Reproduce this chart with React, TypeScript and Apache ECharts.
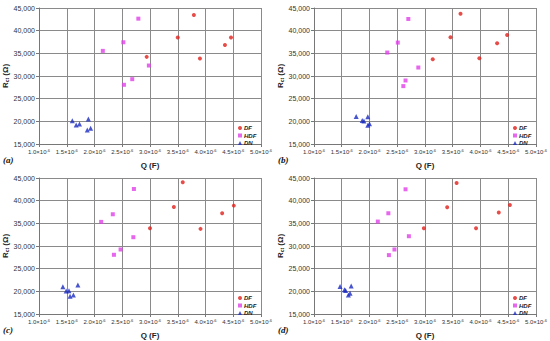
import React, { useEffect, useRef } from "react";
import * as echarts from "echarts";

// Q values in units of 1e-6 F, Rct in ohm
const xTicks = [1.0, 1.5, 2.0, 2.5, 3.0, 3.5, 4.0, 4.5, 5.0];
const yTicks = [15000, 20000, 25000, 30000, 35000, 40000, 45000];
const panelLabels = ["(a)", "(b)", "(c)", "(d)"];
const seriesNames = ["DF", "HDF", "DN"];

const dfA = [[3.79, 43460], [3.5, 38470], [4.46, 38470], [4.35, 36860], [3.9, 33850], [2.94, 34220]];
const hdfA = [[2.79, 42650], [2.52, 37440], [2.15, 35540], [2.98, 32310], [2.68, 29300], [2.53, 28060]];
const dnA = [[1.6, 20130], [1.89, 20500], [1.67, 19180], [1.73, 19400], [1.93, 18450], [1.87, 18080]];

const dfB = [[3.64, 43750], [3.46, 38550], [4.48, 39060], [4.3, 37220], [3.98, 33920], [3.14, 33700]];
const hdfB = [[2.7, 42580], [2.51, 37370], [2.32, 35170], [2.88, 31870], [2.65, 29010], [2.61, 27770]];
const dnB = [[1.76, 21090], [1.97, 21020], [1.87, 20210], [1.9, 20060], [2.0, 19470], [1.97, 19110]];

const dfC = [[3.59, 44050], [3.43, 38620], [4.51, 38910], [4.3, 37220], [3.91, 33780], [3.0, 33920]];
const hdfC = [[2.71, 42580], [2.33, 37000], [2.12, 35320], [2.7, 31940], [2.47, 29230], [2.35, 28060]];
const dnC = [[1.43, 21010], [1.7, 21380], [1.49, 20060], [1.54, 20130], [1.62, 19180], [1.56, 18890]];

const dfD = [[3.57, 43900], [3.4, 38550], [4.53, 39060], [4.33, 37370], [3.92, 33920], [2.98, 33920]];
const hdfD = [[2.65, 42510], [2.34, 37220], [2.15, 35390], [2.71, 32160], [2.45, 29230], [2.35, 27990]];
const dnD = [[1.47, 21090], [1.67, 21160], [1.55, 20350], [1.57, 20210], [1.65, 19550], [1.62, 19180]];

const panels = [
  [dfA, hdfA, dnA],
  [dfB, hdfB, dnB],
  [dfC, hdfC, dnC],
  [dfD, hdfD, dnD],
];

const colors = ["#e0201b", "#e040e8", "#1a2bc0"];
const symbols = ["circle", "rect", "triangle"];
const symbolSizes = [4, 4, 5];

const FONT = "'Liberation Sans', Arial, sans-serif";

function fmtThousands(v: number) {
  return String(v).replace(/\B(?=(\d{3})+(?!\d))/g, ",");
}

export default function App() {
  const ref = useRef<HTMLDivElement>(null);
  useEffect(() => {
    if (!ref.current) return;
    const chart = echarts.init(ref.current, undefined, { renderer: "svg" });

    const pos = [
      { left: 39, top: 8 },
      { left: 314, top: 8 },
      { left: 39, top: 178 },
      { left: 314, top: 178 },
    ];
    const W = 222;
    const H = 136;

    const grid = pos.map((p) => ({ left: p.left, top: p.top, width: W, height: H, show: false }));

    const xAxis = pos.map((_, i) => ({
      type: "value",
      gridIndex: i,
      min: xTicks[0],
      max: xTicks[xTicks.length - 1],
      interval: 0.5,
      name: "Q (F)",
      nameLocation: "middle",
      nameGap: 17,
      nameTextStyle: { fontFamily: FONT, fontSize: 8, fontWeight: "bold", color: "#222" },
      axisLine: { show: true, lineStyle: { color: "#777", width: 1 } },
      axisTick: { show: true, length: 3, lineStyle: { color: "#777" } },
      splitLine: { show: true, lineStyle: { color: "#8a8a8a", width: 1 } },
      axisLabel: {
        margin: 4,
        formatter: (v: number) => `{m|${v.toFixed(1)}×10}{s|-6}`,
        rich: {
          m: { fontFamily: FONT, fontSize: 6, color: "#333" },
          s: { fontFamily: FONT, fontSize: 4, color: "#333", verticalAlign: "top", padding: [0, 0, 4, 0] },
        },
      },
    }));

    const yAxis = pos.map((_, i) => ({
      type: "value",
      gridIndex: i,
      min: yTicks[0],
      max: yTicks[yTicks.length - 1],
      interval: 5000,
      name: "{r|R}{sub|ct}{r| (Ω)}",
      nameLocation: "middle",
      nameGap: 27,
      nameRotate: 90,
      nameTextStyle: {
        rich: {
          r: { fontFamily: FONT, fontSize: 8, fontWeight: "bold", color: "#222" },
          sub: { fontFamily: FONT, fontSize: 5, fontWeight: "bold", color: "#222", verticalAlign: "bottom", padding: [3, 0, 0, 0] },
        },
      },
      axisLine: { show: true, lineStyle: { color: "#777", width: 1 } },
      axisTick: { show: true, length: 3, lineStyle: { color: "#777" } },
      splitLine: { show: true, lineStyle: { color: "#8a8a8a", width: 1 } },
      axisLabel: {
        margin: 4,
        fontFamily: FONT,
        fontSize: 7,
        color: "#333",
        formatter: (v: number) => fmtThousands(v),
      },
    }));

    const series: any[] = [];
    panels.forEach((sets, i) => {
      sets.forEach((data, k) => {
        series.push({
          type: "scatter",
          name: seriesNames[k],
          xAxisIndex: i,
          yAxisIndex: i,
          data,
          symbol: symbols[k],
          symbolSize: symbolSizes[k],
          itemStyle: { color: colors[k] },
        });
      });
    });

    const legend = pos.map((p) => ({
      orient: "vertical",
      left: p.left + 199,
      top: p.top + 117,
      itemWidth: 4,
      itemHeight: 4,
      itemGap: 1.5,
      padding: 0,
      data: seriesNames.map((n, k) => ({ name: n, icon: symbols[k] })),
      textStyle: { fontFamily: FONT, fontSize: 6, fontStyle: "italic", fontWeight: "bold", color: "#222", padding: [0, 0, 0, -3] },
      selectedMode: false,
    }));

    const graphic = pos.map((p, i) => ({
      type: "text",
      left: p.left - 36,
      top: p.top + 147,
      style: {
        text: panelLabels[i],
        font: "italic bold 9px 'Liberation Serif', 'Times New Roman', serif",
        fill: "#111",
      },
    }));

    chart.setOption({
      animation: false,
      backgroundColor: "#fff",
      grid,
      xAxis,
      yAxis,
      series,
      legend,
      graphic,
    });
    return () => chart.dispose();
  }, []);
  return <div ref={ref} style={{ width: 550, height: 341, position: "absolute", left: 0, top: 0 }} />;
}
